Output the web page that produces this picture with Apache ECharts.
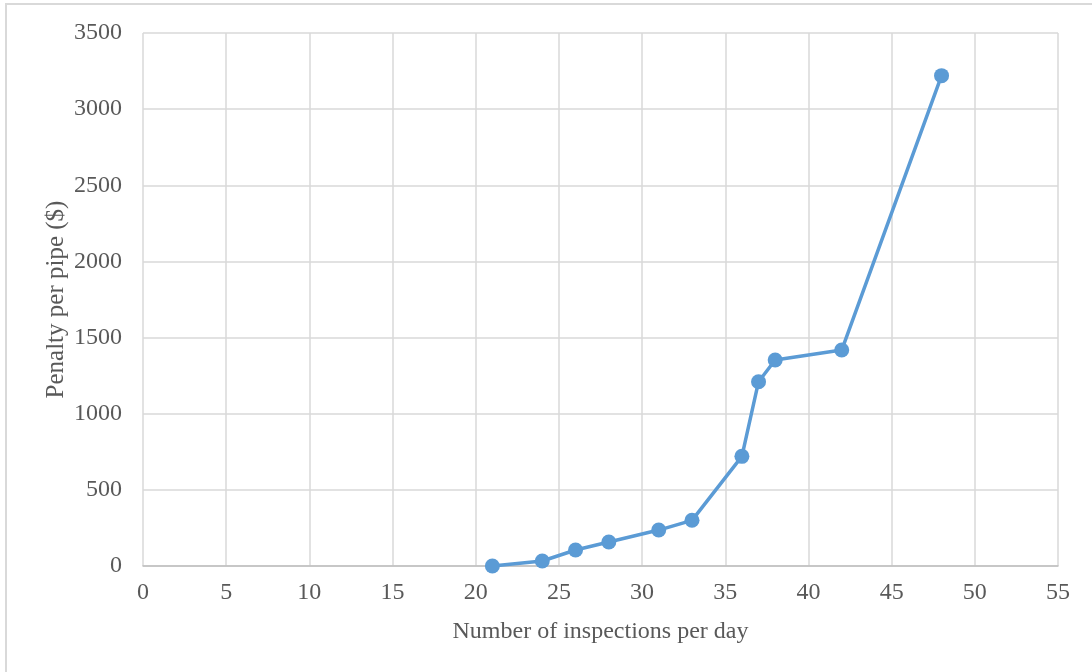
<!DOCTYPE html>
<html>
<head>
<meta charset="utf-8">
<script src="https://cdn.jsdelivr.net/npm/echarts@6/dist/echarts.min.js"></script>
<style>
html,body{margin:0;padding:0;background:#fff;}
#frame{position:absolute;left:5px;top:3px;width:1100px;height:680px;border-left:2px solid #d9d9d9;border-top:2px solid #d9d9d9;box-sizing:border-box;}
#chart{position:absolute;left:0;top:0;width:1092px;height:672px;}
</style>
</head>
<body>
<div id="frame"></div>
<div id="chart"></div>
<script>
const inspections = [21, 24, 26, 28, 31, 33, 36, 37, 38, 42, 48];
const penalty = [0, 33, 105, 158, 236, 300, 720, 1210, 1353, 1418, 3220];
const xTitle = 'Number of inspections per day';
const yTitle = 'Penalty per pipe ($)';

const points = inspections.map((x, i) => [x, penalty[i]]);
const font = '"Liberation Serif", "Times New Roman", serif';
const chart = echarts.init(document.getElementById('chart'), null, {renderer: 'canvas'});
chart.setOption({
  backgroundColor: 'transparent',
  animation: false,
  grid: {left: 143, top: 33, right: 34, bottom: 106, containLabel: false},
  xAxis: {
    type: 'value', min: 0, max: 55, interval: 5,
    name: xTitle, nameLocation: 'middle', nameGap: 54,
    nameTextStyle: {fontFamily: font, fontSize: 24, color: '#595959'},
    axisLine: {show: true, lineStyle: {color: '#bfbfbf', width: 1.5}},
    axisTick: {show: false},
    axisLabel: {fontFamily: font, fontSize: 24, color: '#595959', margin: 15},
    splitLine: {show: true, lineStyle: {color: '#d9d9d9', width: 1.5}}
  },
  yAxis: {
    type: 'value', min: 0, max: 3500, interval: 500,
    name: yTitle, nameLocation: 'middle', nameGap: 74, nameMoveOverlap: false,
    nameTextStyle: {fontFamily: font, fontSize: 25, color: '#595959'},
    axisLine: {show: false},
    axisTick: {show: false},
    axisLabel: {fontFamily: font, fontSize: 24, color: '#595959', margin: 21,
      formatter: v => String(v)},
    splitLine: {show: true, lineStyle: {color: '#d9d9d9', width: 1.5}}
  },
  series: [{
    type: 'line', data: points,
    symbol: 'circle', symbolSize: 15,
    lineStyle: {color: '#5b9bd5', width: 3.5},
    itemStyle: {color: '#5b9bd5'},
    z: 3
  }]
});
</script>
</body>
</html>
